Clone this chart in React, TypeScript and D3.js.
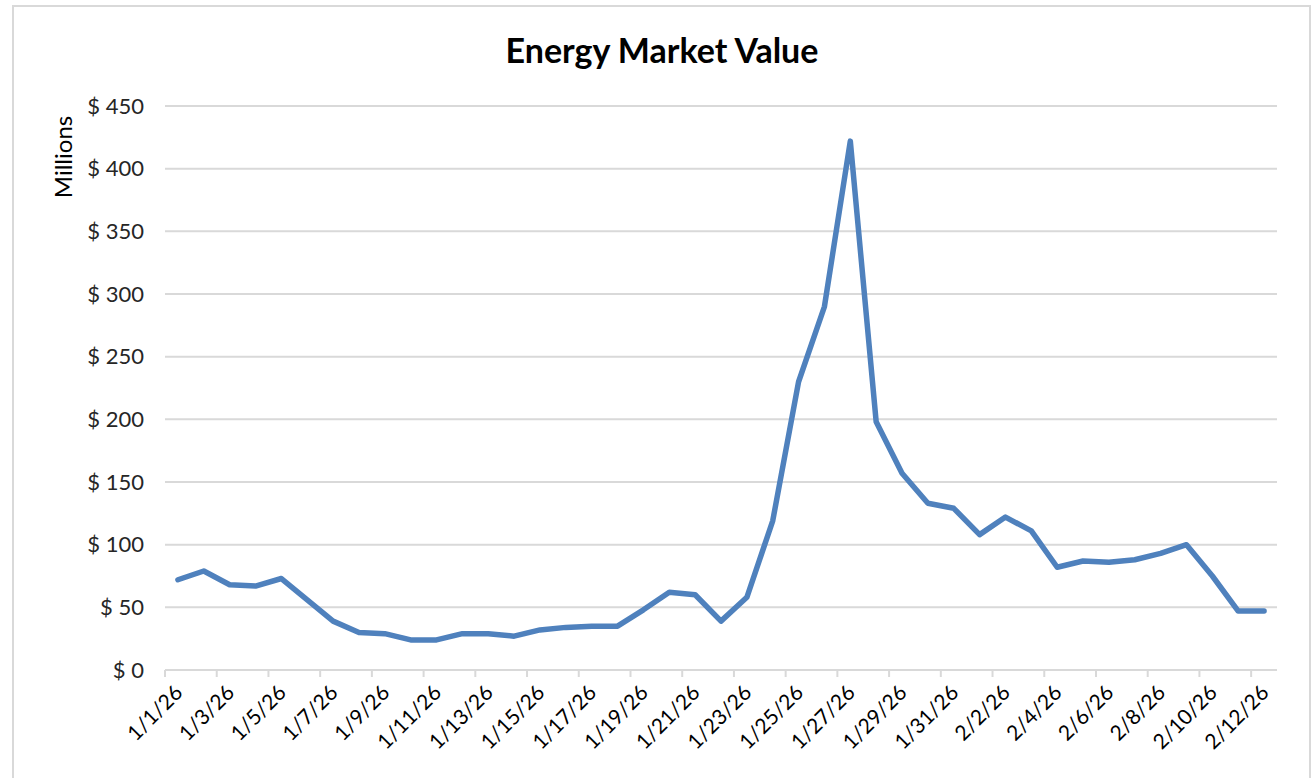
import React from 'react';
import * as d3 from 'd3';

const dates = [
  '1/1/26', '1/2/26', '1/3/26', '1/4/26', '1/5/26', '1/6/26', '1/7/26', '1/8/26', '1/9/26', '1/10/26',
  '1/11/26', '1/12/26', '1/13/26', '1/14/26', '1/15/26', '1/16/26', '1/17/26', '1/18/26', '1/19/26', '1/20/26',
  '1/21/26', '1/22/26', '1/23/26', '1/24/26', '1/25/26', '1/26/26', '1/27/26', '1/28/26', '1/29/26', '1/30/26',
  '1/31/26', '2/1/26', '2/2/26', '2/3/26', '2/4/26', '2/5/26', '2/6/26', '2/7/26', '2/8/26', '2/9/26',
  '2/10/26', '2/11/26', '2/12/26',
];

// millions of dollars
const values = [
  72, 79, 68, 67, 73, 56, 39, 30, 29, 24,
  24, 29, 29, 27, 32, 34, 35, 35, 48, 62,
  60, 39, 58, 119, 230, 290, 422, 198, 157, 133,
  129, 108, 122, 111, 82, 87, 86, 88, 93, 100,
  75, 47, 47,
];

const yTicks = [0, 50, 100, 150, 200, 250, 300, 350, 400, 450];

const W = 1312;
const H = 778;
const margin = { top: 106, right: 35, bottom: 108, left: 165 };
const font = 'Lato, "Open Sans", sans-serif';
const grid = '#d9d9d9';

const App = () => {
  const x = d3.scaleBand<string>()
    .domain(dates)
    .range([margin.left, W - margin.right])
    .paddingInner(0)
    .paddingOuter(0);

  const y = d3.scaleLinear()
    .domain([0, 450])
    .range([H - margin.bottom, margin.top]);

  const cx = (d: string) => (x(d) ?? 0) + x.bandwidth() / 2;

  const line = d3.line<number>()
    .x((_, i) => cx(dates[i]))
    .y(v => y(v));

  const tickDates = dates.filter((_, i) => i % 2 === 0);

  return (
    <div style={{ position: 'absolute', left: 0, top: 0 }}>
      <svg width={W} height={H} style={{ display: 'block', background: '#fff' }}>
        <rect x={13} y={6} width={1297} height={800} fill="#fff" stroke={grid} strokeWidth={2} />

        <text x={662} y={63} textAnchor="middle" fontFamily={font} fontWeight={700} fontSize={34} fill="#000">
          Energy Market Value
        </text>

        {yTicks.slice(1).map(t => (
          <line key={t} x1={margin.left} x2={W - margin.right} y1={y(t)} y2={y(t)} stroke={grid} strokeWidth={2} />
        ))}

        {yTicks.map(t => (
          <text key={t} x={144} y={y(t)} dy="0.35em" textAnchor="end" fontFamily={font} fontSize={22} fill="#262626">
            {`$ ${t}`}
          </text>
        ))}

        <text transform="translate(72,157) rotate(-90)" textAnchor="middle" fontFamily={font} fontSize={24} fill="#000">
          Millions
        </text>

        <line x1={margin.left} x2={W - margin.right} y1={y(0)} y2={y(0)} stroke={grid} strokeWidth={2} />
        {tickDates.map(d => (
          <line key={d} x1={x(d)} x2={x(d)} y1={y(0)} y2={y(0) + 7} stroke={grid} strokeWidth={2} />
        ))}

        {tickDates.map(d => (
          <text
            key={d}
            transform={`translate(${cx(d) + 6},${y(0) + 24}) rotate(-45)`}
            textAnchor="end"
            fontFamily={font}
            fontSize={21}
            fill="#000"
          >
            {d}
          </text>
        ))}

        <path
          d={line(values) ?? ''}
          fill="none"
          stroke="#4f81bd"
          strokeWidth={5.5}
          strokeLinejoin="round"
          strokeLinecap="round"
        />
      </svg>
    </div>
  );
};

export default App;
